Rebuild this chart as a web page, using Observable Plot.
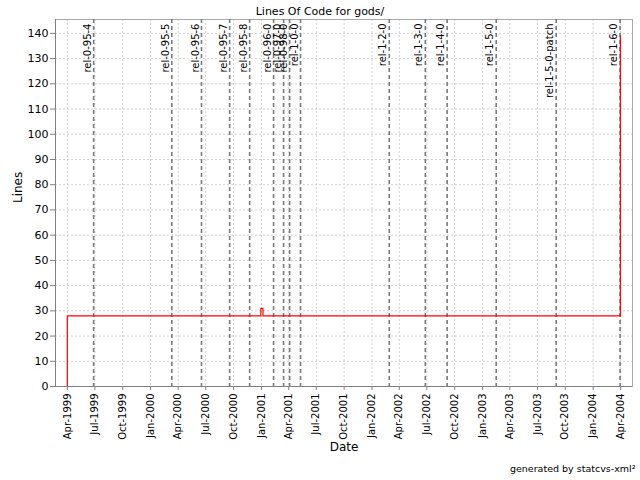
<!DOCTYPE html>
<html>
<head>
<meta charset="utf-8">
<script src="https://cdn.jsdelivr.net/npm/d3@7"></script>
<script src="https://cdn.jsdelivr.net/npm/@observablehq/plot@0.6"></script>
<style>
  html, body { margin: 0; padding: 0; background: #fff; }
  #chart svg { display: block; }
</style>
</head>
<body>
<div id="chart"></div>
<script>
// ---- Data ----
const title = "Lines Of Code for gods/";
const yLabel = "Lines";
const xLabel = "Date";
const footer = "generated by statcvs-xml²";

// Lines-of-code series (step line)
const locDates = ["1999-04-01", "1999-04-01", "2000-12-30", "2001-01-06", "2004-03-31"];
const locValues = [0, 28, 31, 28, 139];

// Release tags
const releaseNames = [
  "rel-0-95-4", "rel-0-95-5", "rel-0-95-6", "rel-0-95-7", "rel-0-95-8",
  "rel-0-96-0", "rel-0-97-0", "rel-0-98-0", "rel-1-0-0",
  "rel-1-2-0", "rel-1-3-0", "rel-1-4-0", "rel-1-5-0", "rel-1-5-0-patch", "rel-1-6-0"
];
const releaseDates = [
  "1999-06-27", "2000-03-11", "2000-06-17", "2000-09-18", "2000-11-23",
  "2001-02-10", "2001-03-15", "2001-04-04", "2001-05-10",
  "2002-02-27", "2002-06-26", "2002-09-06", "2003-02-15", "2003-09-01", "2004-03-30"
];

// Axis ticks
const xTickDates = [
  "1999-04-01", "1999-07-01", "1999-10-01", "2000-01-01", "2000-04-01", "2000-07-01",
  "2000-10-01", "2001-01-01", "2001-04-01", "2001-07-01", "2001-10-01", "2002-01-01",
  "2002-04-01", "2002-07-01", "2002-10-01", "2003-01-01", "2003-04-01", "2003-07-01",
  "2003-10-01", "2004-01-01", "2004-04-01"
];
const yTicks = [0, 10, 20, 30, 40, 50, 60, 70, 80, 90, 100, 110, 120, 130, 140];
const xDomain = ["1999-02-21", "2004-05-10"];
const yDomain = [0, 145.5];

// ---- Build ----
const parse = d3.utcParse("%Y-%m-%d");
const loc = locDates.map((d, i) => ({date: parse(d), value: locValues[i]}));
const releases = releaseNames.map((n, i) => ({name: n, date: parse(releaseDates[i])}));
const xTicks = xTickDates.map(parse);
const fmt = d3.utcFormat("%b-%Y");

const font = "DejaVu Sans, sans-serif";

const chart = Plot.plot({
  width: 640,
  height: 480,
  marginLeft: 55,
  marginRight: 8,
  marginTop: 19,
  marginBottom: 94,
  style: {fontFamily: font, fontSize: "10px", background: "#fff", color: "#000"},
  x: {type: "utc", domain: xDomain.map(parse)},
  y: {domain: yDomain},
  marks: [
    Plot.gridX(xTicks, {stroke: "#d0d0d0", strokeOpacity: 1, strokeDasharray: "2,2"}),
    Plot.gridY(yTicks, {stroke: "#d0d0d0", strokeOpacity: 1, strokeDasharray: "2,2"}),
    Plot.frame({stroke: "#a8a8a8"}),
    Plot.ruleX(releases, {x: "date", stroke: "#7a7a7a", strokeWidth: 1.6, strokeDasharray: "4,3"}),
    Plot.text(releases, {
      x: "date", text: "name", frameAnchor: "top", rotate: -90, textAnchor: "end",
      dx: -10, dy: 4, fontSize: 10, fill: "#000"
    }),
    Plot.line(loc, {x: "date", y: "value", curve: "step-after", stroke: "#ff0000", strokeWidth: 1.2}),
    Plot.axisY(yTicks, {
      tickSize: 5, tickPadding: 2, fontSize: 11, label: null, stroke: "#808080"
    }),
    Plot.axisX(xTicks, {
      tickSize: 4, tickPadding: 3, tickRotate: -90, fontSize: 10, label: null,
      tickFormat: fmt, stroke: "#808080"
    }),
    Plot.ruleY([0], {stroke: "#808080"}),
    Plot.ruleX([parse(xDomain[0])], {stroke: "#808080"}),
    // title & labels
    Plot.text([title], {frameAnchor: "top", dy: -12, fontSize: 11, fill: "#000", dx: -24}),
    Plot.text([yLabel], {frameAnchor: "left", dx: -37, rotate: -90, fontSize: 12, fill: "#000"}),
    Plot.text([xLabel], {frameAnchor: "bottom", dy: 64, fontSize: 12, fill: "#000"}),
    Plot.text([footer], {frameAnchor: "bottom-right", dx: 3, dy: 85, textAnchor: "end", fontSize: 9.5, fill: "#000"})
  ]
});
document.getElementById("chart").appendChild(chart);
</script>
</body>
</html>
